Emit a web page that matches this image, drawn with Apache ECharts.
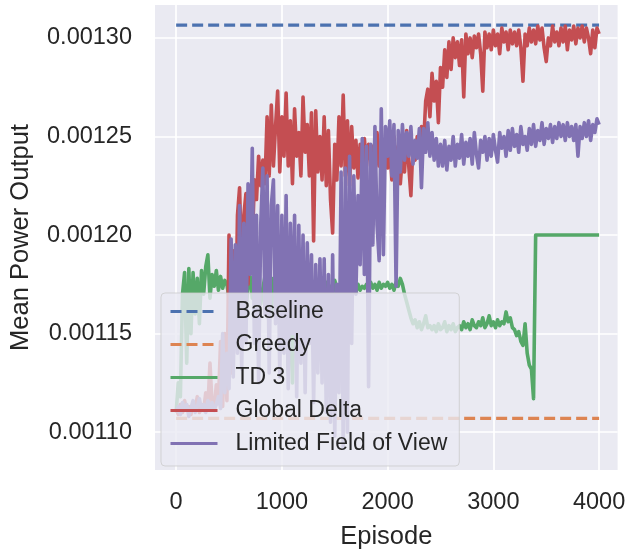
<!DOCTYPE html>
<html>
<head>
<meta charset="utf-8">
<script src="https://cdn.jsdelivr.net/npm/echarts@6/dist/echarts.min.js"></script>
<style>
html,body{margin:0;padding:0;background:#ffffff;}
#chart{width:628px;height:555px;}
</style>
</head>
<body>
<div id="chart"></div>
<script>
// ---- data (values in units of 1e-5) ----
const episodeStep = 20; // one sample every 20 episodes, 0..4000
const seriesNames = ['Baseline', 'Greedy', 'TD 3', 'Global Delta', 'Limited Field of View'];
const baselineValue = 130.65;
const greedyValue = 110.7;
const td3Values = [
  111.0, 112.5, 111.8, 117.0, 118.1, 113.5, 118.3, 115.0, 118.1, 116.0, 117.8, 115.5, 118.2, 117.0, 118.4, 119.0, 116.8, 118.0, 117.4, 118.2,
  117.2, 117.9, 117.3, 117.7, 117.5, 116.8, 117.9, 117.2, 118.0, 116.5, 117.6, 117.0, 117.8, 116.2, 117.4, 117.9, 116.8, 117.5, 117.0, 117.7,
  116.5, 117.3, 117.9, 117.1, 117.6, 116.0, 117.8, 117.2, 117.5, 116.8, 117.6, 116.0, 117.8, 113.0, 117.5, 112.5, 117.2, 114.0, 117.6, 116.8,
  117.4, 117.0, 117.8, 116.5, 117.3, 117.6, 116.9, 117.5, 117.0, 117.7, 117.2, 117.6, 116.8, 117.4, 117.0, 117.7, 117.3, 116.9, 117.5, 117.2,
  117.6, 117.0, 117.4, 117.3, 117.6, 117.1, 117.5, 117.2, 117.4, 117.3, 117.5, 117.2, 117.6, 117.3, 117.5, 117.2, 117.6, 117.3, 117.5, 117.4,
  117.6, 117.3, 117.5, 117.2, 117.6, 117.4, 117.8, 117.5, 117.0, 116.6, 116.2, 115.8, 115.5, 115.7, 115.3, 115.6, 115.2, 115.5, 115.9, 115.3,
  115.4, 115.2, 115.4, 115.1, 115.5, 115.2, 115.3, 115.6, 115.1, 115.4, 115.2, 115.5, 115.1, 115.3, 115.4, 115.2, 115.6, 115.3, 115.5, 115.2,
  115.7, 115.4, 115.3, 115.6, 115.4, 115.8, 115.3, 115.5, 115.9, 115.4, 115.6, 115.3, 115.7, 115.4, 115.6, 115.5, 116.1, 115.6, 115.8, 115.3,
  115.2, 114.9, 115.1, 114.6, 114.4, 115.5, 114.0, 113.4, 113.2, 111.7, 120.0, 120.0, 120.0, 120.0, 120.0, 120.0, 120.0, 120.0, 120.0, 120.0,
  120.0, 120.0, 120.0, 120.0, 120.0, 120.0, 120.0, 120.0, 120.0, 120.0, 120.0, 120.0, 120.0, 120.0, 120.0, 120.0, 120.0, 120.0, 120.0, 120.0,
  120.0
];
const globalDeltaValues = [
  111.2, 110.9, 111.4, 111.0, 111.6, 111.1, 111.3, 110.9, 111.5, 111.2, 111.8, 111.0, 111.4, 111.1, 112.0, 111.3, 113.5, 111.4, 111.2, 112.4,
  111.5, 114.6, 111.3, 115.0, 111.6, 120.0, 113.0, 119.2, 114.5, 121.0, 122.4, 118.0, 121.0, 122.1, 117.5, 121.5, 119.5, 122.8, 121.8, 124.0,
  122.5, 123.8, 122.6, 126.0, 123.0, 126.6, 123.5, 125.5, 127.3, 123.2, 126.0, 124.0, 127.2, 123.5, 125.8, 122.6, 126.4, 124.0, 125.2, 123.0,
  127.0, 124.2, 125.6, 123.0, 126.2, 119.7, 126.3, 123.2, 125.0, 122.8, 126.0, 122.5, 125.3, 121.8, 120.1, 124.6, 122.8, 126.0, 123.5, 127.1,
  123.0, 125.8, 122.5, 125.5, 123.4, 124.8, 122.9, 124.6, 123.2, 124.9, 123.5, 124.6, 123.8, 124.5, 123.0, 125.2, 123.5, 124.4, 123.2, 124.8,
  123.4, 124.6, 122.8, 125.0, 123.0, 124.5, 122.6, 124.0, 123.2, 125.3, 123.5, 122.0, 124.6, 123.8, 125.0, 124.0, 125.5, 124.6, 126.8, 127.4,
  126.0, 128.2, 126.8, 127.8, 125.7, 128.5, 127.5, 129.4, 128.0, 129.8, 128.4, 130.0, 129.0, 129.8, 128.6, 129.9, 127.0, 130.2, 129.2, 130.0,
  129.0, 130.1, 129.5, 130.2, 129.2, 127.3, 130.3, 129.5, 130.2, 129.4, 130.4, 129.6, 130.2, 129.2, 130.5, 129.8, 130.3, 129.4, 130.4, 129.7,
  130.3, 129.6, 130.4, 129.5, 127.8, 130.2, 129.6, 130.5, 129.8, 130.4, 129.7, 130.6, 129.9, 130.5, 129.5, 128.8, 130.0, 129.6, 130.6, 129.8,
  130.3, 129.6, 130.5, 129.8, 130.6, 129.4, 130.4, 129.9, 130.6, 129.7, 130.5, 130.0, 130.6, 129.8, 130.5, 130.0, 129.2, 130.4, 129.5, 130.5,
  130.2
];
const limitedFovValues = [
  111.0, 111.3, 110.9, 111.5, 111.1, 111.4, 110.8, 111.2, 111.6, 111.0, 111.3, 111.7, 111.1, 111.4, 111.0, 111.6, 111.2, 111.5, 111.1, 111.4,
  111.8, 111.2, 115.0, 112.0, 114.0, 112.2, 119.8, 112.8, 119.5, 114.0, 121.5, 113.2, 120.6, 114.5, 122.6, 118.0, 124.4, 114.5, 121.0, 112.5,
  120.5, 123.4, 116.0, 123.0, 113.0, 121.5, 122.8, 115.5, 121.5, 112.8, 121.0, 114.0, 122.0, 112.2, 120.6, 115.0, 121.0, 111.8, 120.5, 113.5,
  120.0, 112.0, 119.6, 114.5, 119.0, 111.5, 118.5, 113.0, 118.8, 112.5, 118.8, 111.0, 118.0, 110.5, 119.0, 109.8, 117.5, 112.0, 123.2, 109.2,
  123.4, 110.0, 124.0, 114.5, 123.0, 117.0, 122.0, 118.5, 124.9, 118.0, 124.5, 112.3, 124.6, 119.5, 125.5, 120.5, 118.7, 126.4, 119.0, 125.5,
  124.0, 125.8, 123.0, 125.6, 117.4, 125.3, 123.2, 125.6, 123.8, 125.2, 124.0, 125.5, 123.6, 124.8, 123.9, 125.4, 122.4, 125.4, 124.2, 125.7,
  124.0, 125.2, 123.8, 124.9, 123.5, 124.6, 123.5, 124.8, 123.3, 124.5, 123.8, 125.0, 123.5, 124.6, 123.9, 125.1, 123.6, 124.7, 124.0, 124.9,
  123.6, 125.2, 124.1, 123.4, 124.8, 124.2, 125.0, 123.8, 124.9, 124.0, 125.1, 124.3, 123.7, 125.2, 124.4, 125.0, 124.0, 125.3, 124.3, 125.4,
  124.5, 125.1, 124.2, 125.5, 124.6, 125.0, 124.3, 125.4, 124.6, 125.6, 124.5, 125.3, 124.8, 125.7, 124.6, 125.4, 124.9, 125.6, 124.7, 125.5,
  124.9, 125.7, 125.0, 125.6, 124.8, 125.7, 125.0, 125.5, 124.8, 125.6, 124.0, 125.5, 124.9, 125.7, 125.0, 125.8, 124.8, 125.6, 125.2, 125.9,
  125.6
];
const xTicks = [0, 1000, 2000, 3000, 4000];
const yTicks = [0.00110, 0.00115, 0.00120, 0.00125, 0.00130];
const unit = 1e-5;

// ---- build ----
const episodes = td3Values.map((_, i) => i * episodeStep);
const firstEp = episodes[0], lastEp = episodes[episodes.length - 1];
const toPairs = vals => vals.map((v, i) => [episodes[i], v * unit]);

const colors = ['#4C72B0', '#DD8452', '#55A868', '#C44E52', '#8172B3'];
const FONT = '"Liberation Sans", Arial, sans-serif';
const TEXT = '#262626';

function lineSeries(name, data, color, dashed) {
  return {
    name, type: 'line', data, symbol: 'none', showSymbol: false,
    sampling: false, silent: true,
    lineStyle: { color, width: dashed ? 3.3 : 3.6, type: dashed ? [11, 5] : 'solid', join: 'round', cap: 'butt' },
    itemStyle: { color },
    emphasis: { disabled: true }
  };
}

const chart = echarts.init(document.getElementById('chart'), null, { renderer: 'canvas' });
chart.setOption({
  animation: false,
  backgroundColor: '#ffffff',
  grid: { left: 149, right: 6, top: 5, bottom: 80, show: true, backgroundColor: '#EAEAF2', borderWidth: 0 },
  xAxis: {
    type: 'value', min: -200, max: 4175,
    name: 'Episode', nameLocation: 'middle', nameGap: 54,
    nameTextStyle: { fontFamily: FONT, fontSize: 25.5, color: TEXT, lineHeight: 26 },
    axisLine: { show: false },
    axisTick: { show: false, customValues: xTicks },
    axisLabel: { customValues: xTicks, fontFamily: FONT, fontSize: 23.5, color: TEXT, margin: 21, lineHeight: 23,
      formatter: v => String(v) },
    splitLine: { show: true, lineStyle: { color: '#ffffff', width: 1.7 } }
  },
  yAxis: {
    type: 'value', min: 108.08 * unit, max: 131.67 * unit,
    name: 'Mean Power Output', nameLocation: 'middle', nameGap: 121, nameRotate: 90,
    nameTextStyle: { fontFamily: FONT, fontSize: 25.5, color: TEXT, lineHeight: 26 },
    axisLine: { show: false },
    axisTick: { show: false, customValues: yTicks },
    axisLabel: { customValues: yTicks, fontFamily: FONT, fontSize: 23.5, color: TEXT, margin: 23,
      formatter: v => Number(v).toFixed(5) },
    splitLine: { show: true, lineStyle: { color: '#ffffff', width: 1.7 } }
  },
  legend: {
    data: seriesNames,
    orient: 'vertical', left: 161, top: 293,
    itemWidth: 47, itemHeight: 14, itemGap: 0,
    padding: [2, 12, 6, 8],
    backgroundColor: 'rgba(234,234,242,0.8)',
    borderColor: 'rgba(204,204,204,0.8)', borderWidth: 1, borderRadius: 4,
    textStyle: { fontFamily: FONT, fontSize: 23, color: TEXT, lineHeight: 33, padding: [0, 0, 0, 13] },
    itemStyle: { opacity: 0 },
    lineStyle: { width: 3 },
    selectedMode: false,
    z: 10
  },
  series: [
    lineSeries(seriesNames[0], [[firstEp, baselineValue * unit], [lastEp, baselineValue * unit]], colors[0], true),
    lineSeries(seriesNames[1], [[firstEp, greedyValue * unit], [lastEp, greedyValue * unit]], colors[1], true),
    lineSeries(seriesNames[2], toPairs(td3Values), colors[2], false),
    lineSeries(seriesNames[3], toPairs(globalDeltaValues), colors[3], false),
    lineSeries(seriesNames[4], toPairs(limitedFovValues), colors[4], false)
  ]
});
</script>
</body>
</html>
